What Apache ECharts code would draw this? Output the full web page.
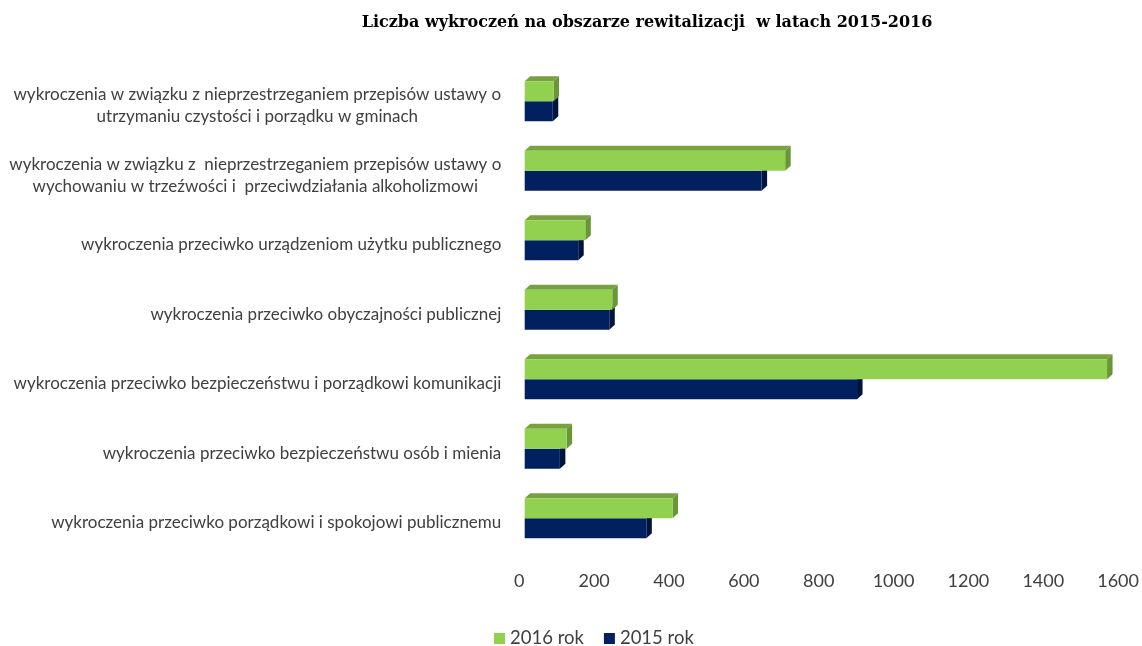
<!DOCTYPE html>
<html>
<head>
<meta charset="utf-8">
<script src="https://cdn.jsdelivr.net/npm/echarts@6/dist/echarts.min.js"></script>
<style>
  html, body { margin: 0; padding: 0; background: #ffffff; }
  #chart { width: 1142px; height: 646px; }
</style>
</head>
<body>
<div id="chart"></div>
<script>
// Offence categories, top to bottom
const categories = [
  'wykroczenia w związku z nieprzestrzeganiem przepisów ustawy o\nutrzymaniu czystości i porządku w gminach',
  'wykroczenia w związku z  nieprzestrzeganiem przepisów ustawy o\nwychowaniu w trzeźwości i  przeciwdziałania alkoholizmowi',
  'wykroczenia przeciwko urządzeniom użytku publicznego',
  'wykroczenia przeciwko obyczajności publicznej',
  'wykroczenia przeciwko bezpieczeństwu i porządkowi komunikacji',
  'wykroczenia przeciwko bezpieczeństwu osób i mienia',
  'wykroczenia przeciwko porządkowi i spokojowi publicznemu'
];
const values2016 = [77, 696, 162, 234, 1556, 112, 395];
const values2015 = [75, 633, 143, 226, 888, 94, 325];
const xTicks = { min: 0, max: 1600, interval: 200 };

const FONT = 'Lato';
const LABEL_SIZE = 17;

// measure a line so two-line labels can be centred inside their own box
const ctx = document.createElement('canvas').getContext('2d');
ctx.font = LABEL_SIZE + 'px ' + FONT;
function lineWidth(s) { return Math.ceil(ctx.measureText(s).width); }

const rich = {};
categories.forEach((c, i) => {
  const lines = c.split('\n');
  if (lines.length > 1) {
    rich['l' + i] = {
      width: Math.max(...lines.map(lineWidth)),
      align: 'center',
      fontFamily: FONT, fontSize: LABEL_SIZE, color: '#404040', lineHeight: 22
    };
  }
});

// oblique 3D bar: front face, top face and right side face
const DX = 5.5, DY = 5, BAR_H = 20, SHIFT_X = 5.4, SHIFT_Y = -4.5;
function makeBar(row, colors) {
  return function (params, api) {
    const v = api.value(0), cat = api.value(1);
    const p0 = api.coord([0, cat]);
    const p1 = api.coord([v, cat]);
    const x0 = p0[0] + SHIFT_X, x1 = p1[0] + SHIFT_X;
    const mid = p0[1] + SHIFT_Y;
    const y0 = row === 0 ? mid - BAR_H : mid;
    const y1 = y0 + BAR_H;
    const children = [];
    if (row === 0) {
      children.push({
        type: 'polygon',
        shape: { points: [[x0, y0], [x0 + DX, y0 - DY], [x1 + DX, y0 - DY], [x1, y0]] },
        style: { fill: colors.top }
      });
    }
    children.push({
      type: 'polygon',
      shape: { points: [[x1, y0], [x1 + DX, y0 - DY], [x1 + DX, y1 - DY], [x1, y1]] },
      style: { fill: colors.side }
    });
    children.push({
      type: 'rect',
      shape: { x: x0, y: y0, width: x1 - x0, height: BAR_H },
      style: { fill: colors.front }
    });
    return { type: 'group', children };
  };
}

const green = { front: '#92d050', top: '#77a23f', side: '#6a9638' };
const navy = { front: '#002060', top: '#001a4d', side: '#00143d' };

const chart = echarts.init(document.getElementById('chart'));
chart.setOption({
  backgroundColor: '#ffffff',
  animation: false,
  title: {
    text: 'Liczba wykroczeń na obszarze rewitalizacji  w latach 2015-2016',
    left: 642, top: 10, textAlign: 'center',
    textStyle: { fontFamily: 'DejaVu Serif', fontWeight: 'bold', fontSize: 16, color: '#000000' }
  },
  legend: {
    left: 489, top: 624,
    icon: 'rect', itemWidth: 11, itemHeight: 11, itemGap: 20,
    textStyle: { fontFamily: FONT, fontSize: 18.5, color: '#404040' },
    data: ['2016 rok', '2015 rok']
  },
  grid: { left: 519.3, width: 600, top: 71, height: 486.5, containLabel: false },
  xAxis: {
    type: 'value', min: xTicks.min, max: xTicks.max, interval: xTicks.interval,
    axisLine: { show: false }, axisTick: { show: false }, splitLine: { show: false },
    axisLabel: {
      fontFamily: FONT, fontSize: 18, color: '#404040', margin: 15,
      formatter: v => String(v)
    }
  },
  yAxis: {
    type: 'category', inverse: true, data: categories,
    axisLine: { show: false }, axisTick: { show: false },
    axisLabel: {
      margin: 18, fontFamily: FONT, fontSize: LABEL_SIZE, color: '#404040', lineHeight: 22,
      formatter: function (val, i) {
        const lines = val.split('\n');
        if (lines.length > 1) return lines.map(l => '{l' + i + '|' + l + '}').join('\n');
        return val;
      },
      rich: rich
    }
  },
  series: [
    {
      name: '2015 rok', type: 'custom', itemStyle: { color: navy.front },
      renderItem: makeBar(1, navy),
      encode: { x: 0, y: 1 },
      data: values2015.map((v, i) => [v, i])
    },
    {
      name: '2016 rok', type: 'custom', itemStyle: { color: green.front },
      renderItem: makeBar(0, green),
      encode: { x: 0, y: 1 },
      data: values2016.map((v, i) => [v, i])
    }
  ]
});
</script>
</body>
</html>
